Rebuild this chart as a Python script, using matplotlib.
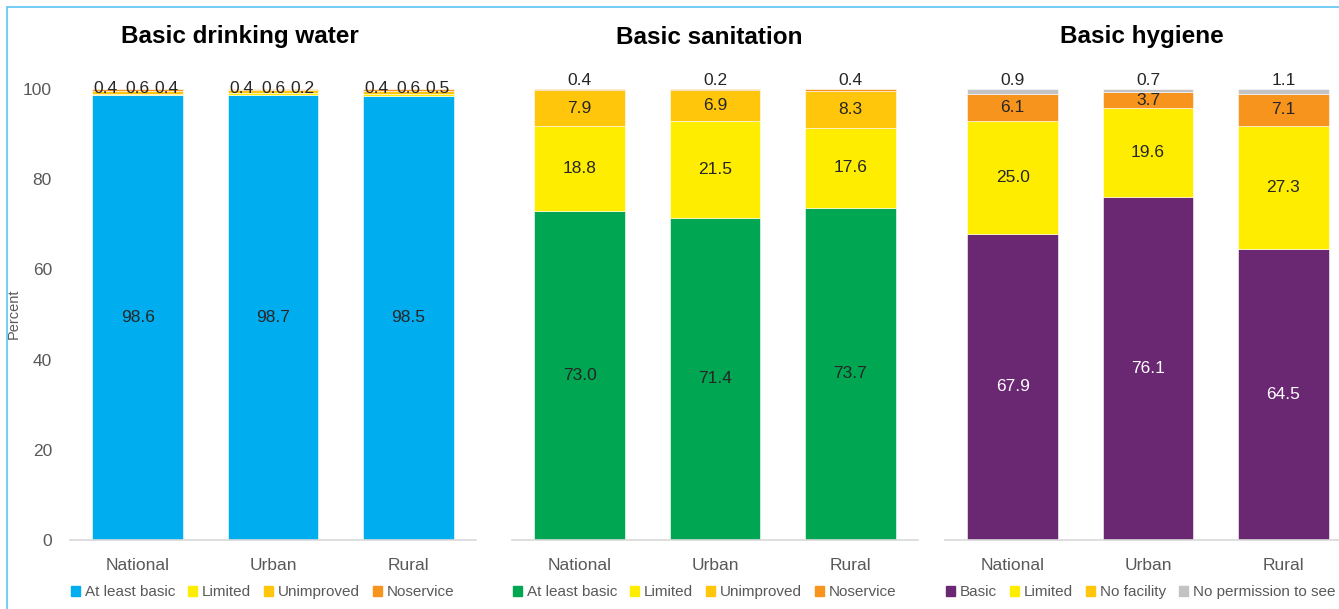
import numpy as np
import matplotlib.pyplot as plt
from matplotlib.patches import Patch, Rectangle

plt.rcParams['font.family'] = ['Liberation Sans', 'DejaVu Sans']

# -----------------------------
# Data
# -----------------------------
areas = ["National", "Urban", "Rural"]

water_labels = ["At least basic", "Limited", "Unimproved", "Noservice"]
water_basic = [98.6, 98.7, 98.5]
water_limited = [0.4, 0.4, 0.4]
water_unimproved = [0.6, 0.6, 0.6]
water_noservice = [0.4, 0.2, 0.5]

san_labels = ["At least basic", "Limited", "Unimproved", "Noservice"]
san_basic = [73.0, 71.4, 73.7]
san_limited = [18.8, 21.5, 17.6]
san_unimproved = [7.9, 6.9, 8.3]
san_noservice = [0.4, 0.2, 0.4]

hyg_labels = ["Basic", "Limited", "No facility", "No permission to see"]
hyg_basic = [67.9, 76.1, 64.5]
hyg_limited = [25.0, 19.6, 27.3]
hyg_nofacility = [6.1, 3.7, 7.1]
hyg_noperm = [0.9, 0.7, 1.1]

BLUE = "#00AEEF"
GREEN = "#00A651"
PURPLE = "#6A2873"
YELLOW = "#FFED00"
AMBER = "#FFC60B"
ORANGE = "#F7941D"
GREY = "#C3C3C3"
TXT = "#262626"
AXTXT = "#595959"

panels = [
    dict(title="Basic drinking water",
         series=[water_basic, water_limited, water_unimproved, water_noservice],
         colors=[BLUE, YELLOW, AMBER, ORANGE],
         legend_colors=[BLUE, YELLOW, AMBER, ORANGE],
         names=water_labels, basic_txt=TXT, title_x=240),
    dict(title="Basic sanitation",
         series=[san_basic, san_limited, san_unimproved, san_noservice],
         colors=[GREEN, YELLOW, AMBER, ORANGE],
         legend_colors=[GREEN, YELLOW, AMBER, ORANGE],
         names=san_labels, basic_txt=TXT, title_x=709),
    dict(title="Basic hygiene",
         series=[hyg_basic, hyg_limited, hyg_nofacility, hyg_noperm],
         colors=[PURPLE, YELLOW, ORANGE, GREY],
         legend_colors=[PURPLE, YELLOW, AMBER, GREY],
         names=hyg_labels, basic_txt="white", title_x=1142),
]

# -----------------------------
# Figure
# -----------------------------
W, H = 1339, 609
fig = plt.figure(figsize=(W / 100, H / 100), dpi=100)

# thin blue frame around the chart
fig.patches.append(Rectangle((7 / W, -0.1), 1.2, (H - 7) / H + 0.1, transform=fig.transFigure,
                             fill=False, edgecolor="#5BC5F2", linewidth=1.2))

ax_left = [70, 512, 945]
ax_width = 406
y0, y100 = 540, 89
LBL = 12.5

x = np.arange(len(areas))
bw = 0.67

for i, p in enumerate(panels):
    ax = fig.add_axes([ax_left[i] / W, (H - y0) / H, ax_width / W, (y0 - y100) / H])
    bottom = np.zeros(len(areas))
    for j, vals in enumerate(p["series"]):
        ax.bar(x, vals, bw, bottom=bottom, color=p["colors"][j], edgecolor="white", linewidth=0.4)
        for k, v in enumerate(vals):
            mid = bottom[k] + v / 2
            if j == 0:
                ax.text(x[k], mid, f"{v:.1f}", ha="center", va="center", fontsize=LBL, color=p["basic_txt"])
            elif i == 0:
                # tiny water segments: labels side by side above the bar
                off = {1: -0.235, 2: 0.0, 3: 0.215}[j]
                ax.text(x[k] + off, 100.2, f"{v:.1f}", ha="center", va="center", fontsize=LBL, color=TXT)
            elif j == 3:
                ax.text(x[k], 101.8, f"{v:.1f}", ha="center", va="center", fontsize=LBL, color=TXT)
            else:
                ax.text(x[k], mid, f"{v:.1f}", ha="center", va="center", fontsize=LBL, color=TXT)
        bottom += np.array(vals)

    ax.set_xlim(-0.5, 2.5)
    ax.set_ylim(0, 100)
    ax.set_xticks(x)
    ax.set_xticklabels(areas, fontsize=12.5, color=AXTXT)
    ax.tick_params(axis="x", length=0, pad=13)
    for s in ["top", "right", "left"]:
        ax.spines[s].set_visible(False)
    ax.spines["bottom"].set_color("#D9D9D9")
    ax.spines["bottom"].set_linewidth(1.2)
    if i == 0:
        ax.set_yticks([0, 20, 40, 60, 80, 100])
        ax.tick_params(axis="y", length=0, pad=13, labelsize=12.5, labelcolor=AXTXT)
    else:
        ax.set_yticks([])

    handles = [Patch(color=c) for c in p["legend_colors"]]
    ax.legend(handles, p["names"], loc="upper left", bbox_to_anchor=(0.003, -0.1), ncol=4,
              frameon=False, fontsize=11, handlelength=0.6, handleheight=0.6, handletextpad=0.3,
              columnspacing=0.85, borderaxespad=0, borderpad=0, labelcolor=AXTXT)

    fig.text(p["title_x"] / W, 1 - 37 / H, p["title"], ha="center", va="center",
             fontsize=17.5, fontweight="bold", color="black")

fig.text(14 / W, 1 - 314 / H, "Percent", rotation=90, ha="center", va="center",
         fontsize=10.5, color=AXTXT)

fig.savefig("out.png", dpi=100)
